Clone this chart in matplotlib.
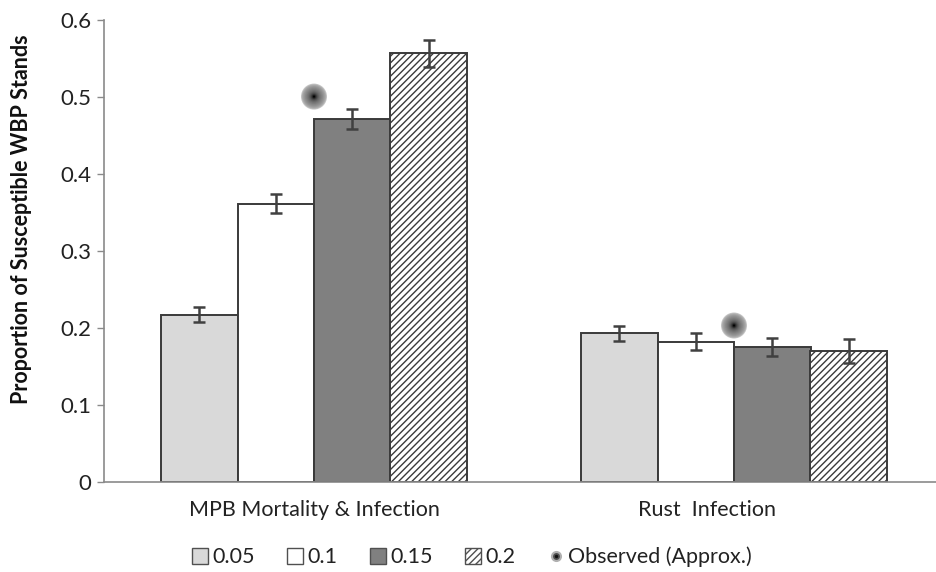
import matplotlib
matplotlib.use('Agg')
import matplotlib.pyplot as plt
import matplotlib.transforms as mtransforms
from matplotlib.patches import Patch
from matplotlib.lines import Line2D
from matplotlib.legend_handler import HandlerTuple
import numpy as np

plt.rcParams['font.family'] = ['Lato', 'DejaVu Sans']
plt.rcParams['hatch.linewidth'] = 1.0
plt.rcParams['hatch.color'] = '#202020'

categories = ['MPB Mortality & Infection', 'Rust  Infection']
series_labels = ['0.05', '0.1', '0.15', '0.2']
values = [
    [0.217, 0.193],   # 0.05
    [0.361, 0.182],   # 0.1
    [0.471, 0.175],   # 0.15
    [0.556, 0.170],   # 0.2
]
errors = [
    [0.010, 0.010],
    [0.012, 0.011],
    [0.013, 0.012],
    [0.018, 0.015],
]
observed = [0.50, 0.203]

face_colors = ['#d9d9d9', '#ffffff', '#808080', '#ffffff']
hatches = [None, None, None, '/////']
edge = '#3a3a3a'

fig = plt.figure(figsize=(9.36, 5.72), dpi=100)
ax = fig.add_axes([104 / 936, 90 / 572, 840 / 936, 462.5 / 572])

x = np.arange(len(categories)) + 0.5
w = 76.5 / 420
offsets = [-1.5 * w, -0.5 * w, 0.5 * w, 1.5 * w]

handles = []
for i in range(len(series_labels)):
    ax.bar(x + offsets[i], values[i], w, color=face_colors[i], edgecolor=edge,
           linewidth=1.4, hatch=hatches[i], zorder=2)
    ax.errorbar(x + offsets[i], values[i], yerr=errors[i], fmt='none',
                ecolor='#404040', elinewidth=1.8, capsize=4.5, capthick=1.8, zorder=3)
    handles.append(Patch(facecolor=face_colors[i], edgecolor='#505050',
                         linewidth=1.0, hatch=hatches[i]))

# observed points drawn as a soft radial gradient
n = 16
for k in range(n):
    t = k / (n - 1)
    d = 26 * (1 - 0.93 * t)
    g = 0.78 - 0.45 * t ** 0.6 - 0.33 * t ** 5
    ax.scatter(x, observed, s=(d * 0.72) ** 2, color=str(max(g, 0)),
               edgecolors='none', zorder=4 + k * 0.01)

ax.set_xlim(0, 2)
ax.set_ylim(0, 0.6)
ax.set_yticks(np.arange(0, 0.61, 0.1))
ax.set_yticklabels(['0', '0.1', '0.2', '0.3', '0.4', '0.5', '0.6'])
ax.set_xticks(x)
ax.set_xticklabels(categories)
ax.tick_params(axis='x', length=0, pad=13, labelsize=15.5, labelcolor='#222222')
ax.tick_params(axis='y', length=5, width=1, color='#8a8a8a', pad=4,
               labelsize=16, labelcolor='#222222')

# second category label sits a bit left of its group centre
lab = ax.get_xticklabels()[1]
lab.set_transform(lab.get_transform() +
                  mtransforms.ScaledTranslation(-27 / 100, 0, fig.dpi_scale_trans))

for s in ['top', 'right']:
    ax.spines[s].set_visible(False)
ax.spines['left'].set_color('#8a8a8a')
ax.spines['bottom'].set_color('#8a8a8a')
ax.spines['left'].set_linewidth(1.2)
ax.spines['bottom'].set_linewidth(1.2)

fig.text(22 / 936, 1 - 219 / 572, 'Proportion of Susceptible WBP Stands',
         rotation=90, ha='center', va='center', fontsize=15.5, fontweight='bold',
         color='#111111')

obs_handle = (Line2D([], [], marker='o', linestyle='none', markersize=8,
                     markerfacecolor='#b0b0b0', markeredgecolor='none'),
              Line2D([], [], marker='o', linestyle='none', markersize=5,
                     markerfacecolor='#505050', markeredgecolor='none'),
              Line2D([], [], marker='o', linestyle='none', markersize=2.5,
                     markerfacecolor='#111111', markeredgecolor='none'))
handles.append(obs_handle)
leg = fig.legend(handles, series_labels + ['Observed (Approx.)'],
                 loc='center', bbox_to_anchor=(472 / 936, 1 - 557 / 572), ncol=5,
                 frameon=False, fontsize=15.5, handlelength=0.75, handleheight=0.75,
                 handletextpad=0.2, columnspacing=1.5,
                 handler_map={tuple: HandlerTuple(ndivide=1, pad=0)})
for t in leg.get_texts():
    t.set_color('#222222')

fig.savefig('out.png', dpi=100, facecolor='white')
